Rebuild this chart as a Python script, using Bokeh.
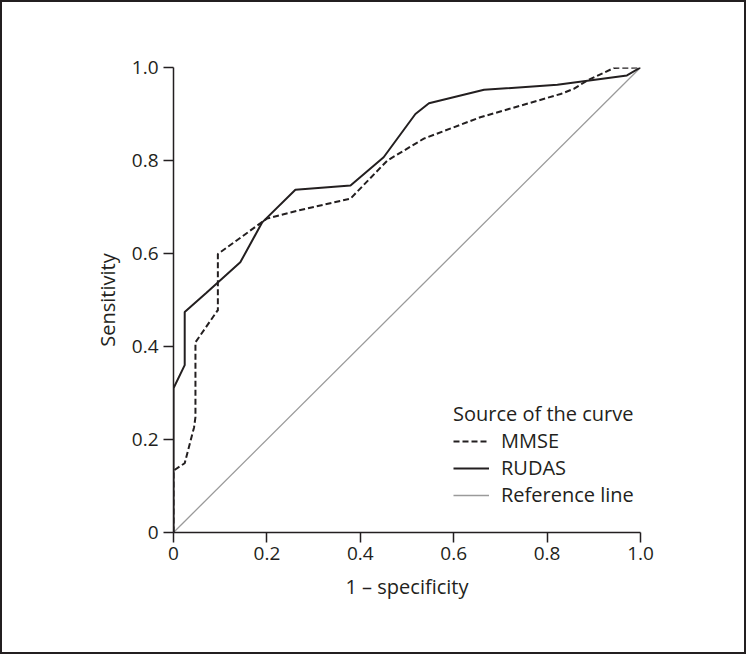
from bokeh.plotting import figure
from bokeh.models import FixedTicker, Legend, LegendItem, Range1d
from bokeh.embed import file_html
from bokeh.resources import INLINE

# ROC curve data (1 - specificity, sensitivity)
mmse_x = [0, 0, 0.024, 0.044, 0.047, 0.047, 0.094, 0.095, 0.095, 0.2, 0.265, 0.379, 0.458, 0.536, 0.657, 0.829, 0.857, 0.886, 0.943, 1.0]
mmse_y = [0, 0.133, 0.149, 0.226, 0.248, 0.409, 0.477, 0.477, 0.599, 0.675, 0.692, 0.718, 0.8, 0.847, 0.893, 0.943, 0.954, 0.972, 0.999, 1.0]

rudas_x = [0, 0, 0.024, 0.024, 0.07, 0.143, 0.19, 0.261, 0.379, 0.450, 0.518, 0.547, 0.665, 0.822, 0.971, 1.0]
rudas_y = [0, 0.31, 0.36, 0.474, 0.515, 0.581, 0.667, 0.737, 0.746, 0.807, 0.9, 0.923, 0.952, 0.963, 0.983, 1.0]

ref_x = [0, 1]
ref_y = [0, 1]

tick_values = [0, 0.2, 0.4, 0.6, 0.8, 1.0]
tick_labels = ["0", "0.2", "0.4", "0.6", "0.8", "1.0"]

INK = "#231f20"
FONT = "Open Sans"

p = figure(width=746, height=654, x_range=Range1d(0, 1), y_range=Range1d(0, 1),
           output_backend="svg", toolbar_location=None,
           min_border_left=171, min_border_right=108,
           min_border_top=65, min_border_bottom=124)
p.styles = {"border": "2px solid #231f20"}
p.grid.visible = False
p.outline_line_color = None

r_ref = p.line(ref_x, ref_y, line_color="#9a9a9a", line_width=1.3)
r_mmse = p.line(mmse_x, mmse_y, line_color=INK, line_width=2, line_dash="6 3")
r_rudas = p.line(rudas_x, rudas_y, line_color=INK, line_width=2)

for ax in (p.xaxis[0], p.yaxis[0]):
    ax.ticker = FixedTicker(ticks=tick_values)
    ax.major_label_overrides = {v: l for v, l in zip(tick_values, tick_labels)}
    ax.minor_tick_line_color = None
    ax.major_tick_in = 0
    ax.major_tick_out = 10
    ax.axis_line_color = INK
    ax.axis_line_width = 1.5
    ax.major_tick_line_color = INK
    ax.major_tick_line_width = 1.5
    ax.major_label_text_font = FONT
    ax.major_label_text_font_size = "19px"
    ax.major_label_text_color = INK
    ax.axis_label_text_font = FONT
    ax.axis_label_text_font_size = "20px"
    ax.axis_label_text_font_style = "normal"
    ax.axis_label_text_color = INK

p.xaxis.axis_label = "1 \u2013 specificity"
p.yaxis.axis_label = "Sensitivity"
p.xaxis.axis_label_standoff = 10
p.yaxis.axis_label_standoff = 8
p.xaxis.major_label_standoff = 4
p.yaxis.major_label_standoff = 5

legend = Legend(
    items=[LegendItem(label="MMSE", renderers=[r_mmse]),
           LegendItem(label="RUDAS", renderers=[r_rudas]),
           LegendItem(label="Reference line", renderers=[r_ref])],
    title="Source of the curve",
    location=(280, 24),
    title_text_font=FONT, title_text_font_size="20px", title_text_font_style="normal",
    title_text_color=INK, title_standoff=-2,
    label_text_font=FONT, label_text_font_size="20px", label_text_color=INK,
    glyph_width=36, glyph_height=20, label_height=20, label_standoff=12,
    spacing=-1, padding=0, margin=0,
    background_fill_alpha=0, border_line_color=None,
)
p.add_layout(legend, "center")

open("out.html", "w").write(file_html(p, INLINE))
